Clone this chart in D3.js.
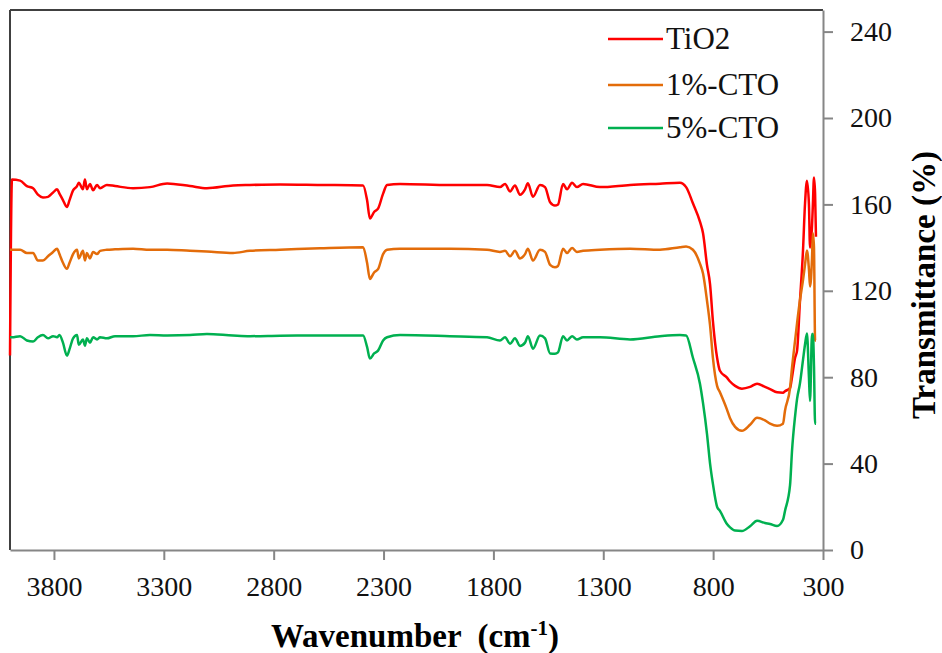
<!DOCTYPE html>
<html>
<head>
<meta charset="utf-8">
<script src="https://cdn.jsdelivr.net/npm/d3@7"></script>
<style>
  body { margin: 0; background: #fff; }
  svg text { font-family: "Times New Roman", Times, "Liberation Serif", "DejaVu Serif", serif !important; }
</style>
</head>
<body>
<svg id="chart" width="942" height="653"></svg>
<script>
// wavenumber grid (cm-1), shared by all three spectra
const wavenumbers = [4000, 3991, 3954, 3923, 3895, 3873, 3850, 3827, 3804, 3786, 3775, 3759, 3741, 3729, 3713, 3695,
  3687, 3668, 3659, 3650, 3636, 3622, 3604, 3590, 3559, 3522, 3440, 3363, 3285, 3181, 3104, 2985, 2908, 2771, 2589,
  2393, 2375, 2362, 2343, 2325, 2302, 2284, 2225, 1998, 1829, 1770, 1747, 1724, 1702, 1679, 1656, 1643, 1620, 1588,
  1565, 1542, 1520, 1506, 1483, 1465, 1442, 1420, 1392, 1315, 1178, 1042, 951, 923, 892, 860, 846, 828, 814, 801,
  782, 769, 737, 723, 700, 669, 632, 600, 564, 541, 509, 482, 473, 450, 441, 427, 418, 405, 391, 382, 373, 364, 359,
  350, 346, 341, 336, 332];

const tio2 = [90, 171.5, 171, 168.5, 167.5, 164.5, 163.2, 163.5, 165.5, 167, 165, 162, 158.8, 162, 166.5, 168.5,
  170, 167, 171.5, 167, 169.5, 166.5, 169, 167.5, 169, 168.5, 167.5, 168, 169.7, 168.5, 167.5, 168.8, 169, 169.2, 169,
  168.8, 162, 153.5, 156.5, 158, 165, 169, 169.5, 169, 169, 168, 169.5, 166, 168.8, 164.5, 167, 169.8, 163.5, 169,
  168, 161, 159.5, 160, 169.5, 167, 170, 168, 169.5, 168, 169, 169.6, 170, 168, 160.5, 152, 146.6, 132, 123, 106,
  89, 83, 79.8, 78, 76, 74.7, 75.5, 77, 75.5, 74.5, 73, 72.8, 73.5, 75, 80, 89, 92.3, 115, 138.7, 160, 171, 160, 140,
  150, 160, 172.5, 165, 145];

const cto1 = [139, 139, 139, 137.5, 137.5, 134, 134, 136, 138, 139.5, 137, 133, 130.2, 133, 137, 139,
  135, 138.5, 134, 137.5, 135, 138, 137, 138.5, 139, 139.2, 139.5, 139, 139, 138.5, 138.2, 137.5, 138.5, 139, 139.7,
  140.2, 133, 125.5, 128.5, 130, 137, 139, 139.5, 139.5, 139, 138, 138.5, 136, 138.5, 135, 137, 139.5, 134, 139,
  138, 132, 130.9, 131.5, 139.5, 137.5, 139.8, 138, 138.5, 139, 139.5, 139, 140.2, 140.5, 139, 132.6, 128, 115.5, 104, 89,
  76, 73, 65, 61, 57, 55.2, 58, 61.2, 60, 58.5, 57.5, 58.5, 64.5, 75, 84.4, 97, 105, 115.5, 125, 132, 138.7, 130, 122,
  135, 146.6, 140, 97, 97];

const cto5 = [98.5, 98.5, 99, 97, 96.5, 98.5, 99.5, 98, 99, 98.5, 99.5, 96, 90, 93, 98, 99.5,
  95, 97.5, 94.6, 98, 96, 98.5, 97.5, 98.5, 98, 99, 99, 99.5, 99.3, 99.5, 100, 99.3, 99, 99.2, 99.3,
  99.3, 94, 88.6, 91, 92.3, 97, 98.5, 99.5, 99, 98.5, 97, 98.5, 95.5, 98, 94.5, 96, 99, 93.2, 99.3,
  98, 91, 90.9, 91.5, 99, 97, 99, 97.5, 98.5, 98.5, 97.5, 99, 99.5, 99.3, 89, 77, 68, 53.8, 40, 30.6,
  20, 18.1, 12, 10.5, 9, 8.8, 11, 13.5, 12.5, 12, 11.1, 14, 18.1, 30, 45.9, 62, 70, 77, 88, 95, 100.2, 80, 69,
  100, 100, 85, 58.4, 58.4];

const seriesNames = ["TiO2", "1%-CTO", "5%-CTO"];
const seriesColors = ["#ff0000", "#e36c0a", "#00b050"];
const xTicks = [3800, 3300, 2800, 2300, 1800, 1300, 800, 300];
const yTicks = [0, 40, 80, 120, 160, 200, 240];

const svg = d3.select("#chart");

const plotLeft = 10, plotRight = 823, plotTop = 10, plotBottom = 550;

const xScale = d3.scaleLinear().domain([4000, 300]).range([plotLeft, plotRight]);
const yScale = d3.scaleLinear().domain([0, 250]).range([plotBottom, plotTop]);

// frame: dark left/top edges, grey axes at bottom/right
svg.append("line")
  .attr("x1", plotLeft).attr("y1", plotTop).attr("x2", plotRight).attr("y2", plotTop)
  .attr("stroke", "#404040").attr("stroke-width", 2);
svg.append("line")
  .attr("x1", plotLeft).attr("y1", plotTop).attr("x2", plotLeft).attr("y2", plotBottom)
  .attr("stroke", "#404040").attr("stroke-width", 2);

const xAxis = svg.append("g")
  .attr("transform", `translate(0,${plotBottom})`)
  .call(d3.axisBottom(xScale).tickValues(xTicks).tickFormat(d3.format("d"))
    .tickSize(10).tickSizeOuter(0).tickPadding(16));

const yAxis = svg.append("g")
  .attr("transform", `translate(${plotRight},0)`)
  .call(d3.axisRight(yScale).tickValues(yTicks).tickSize(10).tickSizeOuter(0).tickPadding(17));

[xAxis, yAxis].forEach(axis => {
  axis.attr("font-size", 28);
  axis.select(".domain").attr("stroke", "#868686").attr("stroke-width", 2);
  axis.selectAll(".tick line").attr("stroke", "#868686").attr("stroke-width", 2);
  axis.selectAll(".tick text").attr("fill", "#111");
});

// spectra
const allSeries = [tio2, cto1, cto5];
const line = d3.line()
  .x((d, i) => xScale(wavenumbers[i]))
  .y(d => yScale(d))
  .curve(d3.curveMonotoneX);

allSeries.forEach((values, k) => {
  svg.append("path")
    .datum(values)
    .attr("fill", "none")
    .attr("stroke", seriesColors[k])
    .attr("stroke-width", 2.5)
    .attr("stroke-linejoin", "round")
    .attr("d", line);
});

// legend
const legendY = [39, 85, 128];
seriesNames.forEach((name, k) => {
  svg.append("line")
    .attr("x1", 608).attr("x2", 663)
    .attr("y1", legendY[k]).attr("y2", legendY[k])
    .attr("stroke", seriesColors[k]).attr("stroke-width", 2.5);
  svg.append("text")
    .attr("x", 666).attr("y", legendY[k] + 10)
    .attr("fill", "#111")
    .attr("font-size", 31)
    .text(name);
});

// axis titles
const xTitle = svg.append("text")
  .attr("x", 415).attr("y", 647)
  .attr("text-anchor", "middle")
  .attr("font-size", 33).attr("font-weight", "bold")
  .style("white-space", "pre");
xTitle.append("tspan").text("Wavenumber  (cm");
xTitle.append("tspan").attr("baseline-shift", "super").attr("font-size", 21).text("-1");
xTitle.append("tspan").text(")");

svg.append("text")
  .attr("transform", "translate(935,285) rotate(-90)")
  .attr("text-anchor", "middle")
  .attr("font-size", 33).attr("font-weight", "bold")
  .text("Transmittance (%)");
</script>
</body>
</html>
